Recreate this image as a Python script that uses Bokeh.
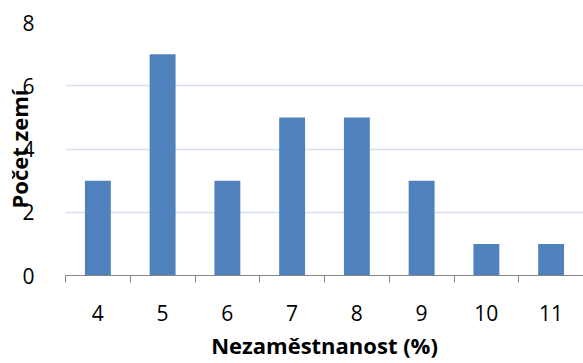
from bokeh.plotting import figure
from bokeh.models import FixedTicker, Range1d
from bokeh.embed import file_html
from bokeh.resources import INLINE

# data
unemployment = [4, 5, 6, 7, 8, 9, 10, 11]
countries = [3, 7, 3, 5, 5, 3, 1, 1]
y_ticks = [0, 2, 4, 6, 8]
x_title = "Nezaměstnanost (%)"
y_title = "Počet zemí"

FONT = "Open Sans"

p = figure(width=583, height=363, output_backend="svg", toolbar_location=None,
           x_range=Range1d(unemployment[0] - 0.5, unemployment[-1] + 0.5),
           y_range=Range1d(0, 8),
           min_border_left=65, min_border_right=0, min_border_top=22, min_border_bottom=88)
p.outline_line_color = None
p.background_fill_color = "white"

p.vbar(x=unemployment, top=countries, width=0.4, color="#4f81bd", line_color=None)

# x axis
xt = FixedTicker(ticks=unemployment,
                 minor_ticks=[v - 0.5 for v in unemployment] + [unemployment[-1] + 0.5])
p.xaxis.ticker = xt
p.xaxis.axis_line_color = "#868686"
p.xaxis.major_tick_out = 0
p.xaxis.major_tick_in = 0
p.xaxis.minor_tick_out = 7
p.xaxis.minor_tick_in = 0
p.xaxis.minor_tick_line_color = "#868686"
p.xaxis.major_label_text_font = FONT
p.xaxis.major_label_text_font_size = "21px"
p.xaxis.major_label_text_color = "black"
p.xaxis.major_label_standoff = 22
p.xaxis.axis_label = x_title
p.xaxis.axis_label_text_font = FONT
p.xaxis.axis_label_text_font_style = "bold"
p.xaxis.axis_label_text_font_size = "22px"
p.xaxis.axis_label_text_color = "black"
p.xaxis.axis_label_standoff = 6
p.xgrid.grid_line_color = None

# y axis
p.yaxis.ticker = FixedTicker(ticks=y_ticks)
p.yaxis.axis_line_color = None
p.yaxis.major_tick_line_color = None
p.yaxis.minor_tick_line_color = None
p.yaxis.major_label_text_font = FONT
p.yaxis.major_label_text_font_size = "21px"
p.yaxis.major_label_text_color = "black"
p.yaxis.major_label_standoff = 25
p.yaxis.axis_label = y_title
p.yaxis.axis_label_text_font = FONT
p.yaxis.axis_label_text_font_style = "bold"
p.yaxis.axis_label_text_font_size = "22px"
p.yaxis.axis_label_text_color = "black"
p.yaxis.axis_label_standoff = -15
p.ygrid.grid_line_color = "#d6e0ef"
p.ygrid.grid_line_width = 1.5

open("out.html", "w").write(file_html(p, INLINE))
